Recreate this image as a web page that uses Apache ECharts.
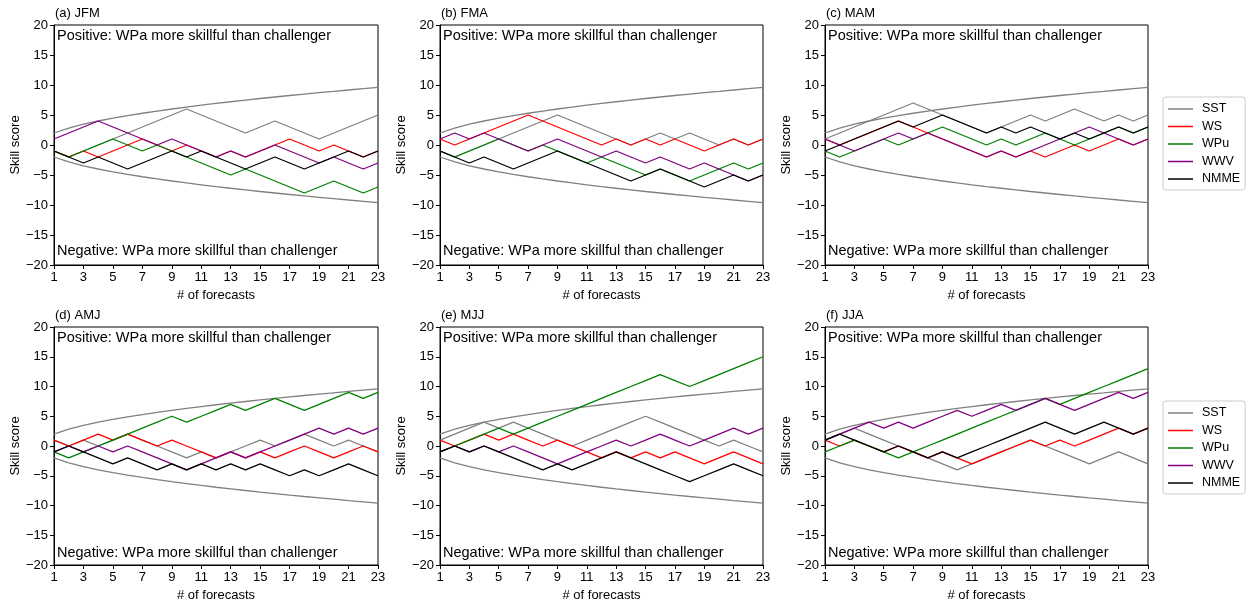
<!DOCTYPE html>
<html><head><meta charset="utf-8">
<script src="https://cdn.jsdelivr.net/npm/echarts@6.0.0/dist/echarts.min.js"></script>
<style>html,body{margin:0;padding:0;background:#fff}#c{width:1251px;height:603px}</style>
</head><body><div id="c"></div><script>
// ---- data ----
const forecasts = ['1','2','3','4','5','6','7','8','9','10','11','12','13','14','15','16','17','18','19','20','21','22','23'];
const yTicks = [-20,-15,-10,-5,0,5,10,15,20];
const panelTitles = ['(a) JFM','(b) FMA','(c) MAM','(d) AMJ','(e) MJJ','(f) JJA'];
const seriesNames = ['SST','WS','WPu','WWV','NMME'];
const boundUpper = [2.0,2.83,3.46,4.0,4.47,4.9,5.29,5.66,6.0,6.32,6.63,6.93,7.21,7.48,7.75,8.0,8.25,8.49,8.72,8.94,9.17,9.38,9.59];
const boundLower = [-2.0,-2.83,-3.46,-4.0,-4.47,-4.9,-5.29,-5.66,-6.0,-6.32,-6.63,-6.93,-7.21,-7.48,-7.75,-8.0,-8.25,-8.49,-8.72,-8.94,-9.17,-9.38,-9.59];

const sstJFM  = [-1,-2,-1,0,1,2,3,4,5,6,5,4,3,2,3,4,3,2,1,2,3,4,5];
const wsJFM   = [-1,-2,-1,-2,-1,0,1,0,-1,0,-1,-2,-1,-2,-1,0,1,0,-1,0,-1,-2,-1];
const wpuJFM  = [-1,-2,-1,0,1,0,-1,0,-1,-2,-3,-4,-5,-4,-5,-6,-7,-8,-7,-6,-7,-8,-7];
const wwvJFM  = [1,2,3,4,3,2,1,0,1,0,-1,-2,-1,-2,-1,0,-1,-2,-3,-2,-3,-4,-3];
const nmmeJFM = [-1,-2,-3,-2,-3,-4,-3,-2,-1,-2,-1,-2,-3,-4,-3,-2,-3,-4,-3,-2,-1,-2,-1];

const sstFMA  = [-1,-2,-1,0,1,2,3,4,5,4,3,2,1,0,1,2,1,2,1,0,1,0,1];
const wsFMA   = [1,0,1,2,3,4,5,4,3,2,1,0,1,0,1,0,1,0,-1,0,1,0,1];
const wpuFMA  = [-1,-2,-1,0,1,0,-1,0,-1,-2,-3,-2,-3,-4,-5,-4,-5,-6,-5,-4,-3,-4,-3];
const wwvFMA  = [1,2,1,2,1,0,-1,0,1,0,-1,-2,-1,-2,-3,-2,-3,-4,-3,-4,-5,-6,-5];
const nmmeFMA = [-1,-2,-3,-2,-3,-4,-3,-2,-1,-2,-3,-4,-5,-6,-5,-4,-5,-6,-7,-6,-5,-6,-5];

const sstMAM  = [1,2,3,4,5,6,7,6,5,4,3,2,3,4,5,4,5,6,5,4,5,4,5];
const wsMAM   = [1,0,1,2,3,4,3,2,1,0,-1,-2,-1,-2,-1,-2,-1,0,-1,0,1,0,1];
const wpuMAM  = [-1,-2,-1,0,1,0,1,2,3,2,1,0,1,0,1,2,1,0,1,2,3,2,3];
const wwvMAM  = [1,0,-1,0,1,2,1,2,1,0,-1,-2,-1,-2,-1,0,1,2,3,2,1,0,1];
const nmmeMAM = [-1,0,1,2,3,4,3,4,5,4,3,2,3,2,3,2,1,2,1,2,3,2,3];

const sstAMJ  = [1,0,1,0,1,2,1,0,-1,-2,-1,-2,-1,0,1,0,1,2,1,0,1,0,-1];
const wsAMJ   = [1,0,1,2,1,2,1,0,1,0,-1,-2,-1,-2,-1,-2,-1,0,-1,-2,-1,0,-1];
const wpuAMJ  = [-1,-2,-1,0,1,2,3,4,5,4,5,6,7,6,7,8,7,6,7,8,9,8,9];
const wwvAMJ  = [-1,0,-1,0,-1,0,-1,-2,-3,-4,-3,-2,-1,-2,-1,0,1,2,3,2,3,2,3];
const nmmeAMJ = [-1,0,-1,-2,-3,-2,-3,-4,-3,-4,-3,-4,-3,-4,-3,-4,-5,-4,-5,-4,-3,-4,-5];

const sstMJJ  = [1,2,3,4,3,4,3,2,1,0,1,2,3,4,5,4,3,2,1,0,1,0,-1];
const wsMJJ   = [1,0,1,2,1,2,1,0,1,0,-1,-2,-1,-2,-1,-2,-1,-2,-3,-2,-1,-2,-3];
const wpuMJJ  = [-1,0,1,2,3,2,3,4,5,6,7,8,9,10,11,12,11,10,11,12,13,14,15];
const wwvMJJ  = [-1,0,-1,0,-1,0,-1,-2,-3,-2,-1,0,1,0,1,2,1,0,1,2,3,2,3];
const nmmeMJJ = [-1,0,-1,0,-1,-2,-3,-4,-3,-4,-3,-2,-1,-2,-3,-4,-5,-6,-5,-4,-3,-4,-5];

const sstJJA  = [1,2,3,2,1,0,-1,-2,-3,-4,-3,-2,-1,0,1,0,-1,-2,-3,-2,-1,-2,-3];
const wsJJA   = [1,0,1,0,-1,0,-1,-2,-1,-2,-3,-2,-1,0,1,0,1,0,1,2,3,2,3];
const wpuJJA  = [-1,0,1,0,-1,-2,-1,0,1,2,3,4,5,6,7,8,7,8,9,10,11,12,13];
const wwvJJA  = [1,2,3,4,3,4,3,4,5,6,5,6,7,6,7,8,7,6,7,8,9,8,9];
const nmmeJJA = [1,2,1,0,-1,0,-1,-2,-1,-2,-1,0,1,2,3,4,3,2,3,4,3,2,3];

const panelData = [
  [sstJFM, wsJFM, wpuJFM, wwvJFM, nmmeJFM],
  [sstFMA, wsFMA, wpuFMA, wwvFMA, nmmeFMA],
  [sstMAM, wsMAM, wpuMAM, wwvMAM, nmmeMAM],
  [sstAMJ, wsAMJ, wpuAMJ, wwvAMJ, nmmeAMJ],
  [sstMJJ, wsMJJ, wpuMJJ, wwvMJJ, nmmeMJJ],
  [sstJJA, wsJJA, wpuJJA, wwvJJA, nmmeJJA]
];

// ---- layout / style ----
const colors = ['#808080','#ff0000','#008000','#800080','#000000'];
const FONT = '"Liberation Sans", Arial, sans-serif';
const lefts = [54, 440, 825];
const widths = [324, 323, 323];
const tops = [25, 327];
const H = 240;

const grids = [], xAxes = [], yAxes = [], series = [], graphics = [];
for (let p = 0; p < 6; p++) {
  const col = p % 3, row = Math.floor(p / 3);
  const gl = lefts[col], gt = tops[row];
  grids.push({left: gl, top: gt, width: widths[col], height: H, show: true,
    borderColor: '#000', borderWidth: 1, backgroundColor: 'transparent'});
  xAxes.push({type: 'category', gridIndex: p, data: forecasts, boundaryGap: false,
    axisLine: {show: true, onZero: false, lineStyle: {color: '#000', width: 1}},
    axisTick: {show: true, interval: 1, length: 4, lineStyle: {color: '#000'}},
    axisLabel: {interval: 1, color: '#000', fontSize: 13, fontFamily: FONT, margin: 6},
    splitLine: {show: false},
    name: '# of forecasts', nameLocation: 'middle', nameGap: 24,
    nameTextStyle: {color: '#000', fontSize: 13, fontFamily: FONT}});
  yAxes.push({type: 'value', gridIndex: p, min: yTicks[0], max: yTicks[yTicks.length-1], interval: 5,
    axisLine: {show: true, onZero: false, lineStyle: {color: '#000', width: 1}},
    axisTick: {show: true, length: 4, lineStyle: {color: '#000'}},
    axisLabel: {color: '#000', fontSize: 13, fontFamily: FONT, margin: 6,
      formatter: v => String(v).replace('-', '\u2212')},
    splitLine: {show: false},
    name: 'Skill score', nameLocation: 'middle', nameGap: 30,
    nameTextStyle: {color: '#000', fontSize: 13, fontFamily: FONT}});
  series.push({name: 'upper', type: 'line', xAxisIndex: p, yAxisIndex: p, data: boundUpper,
    symbol: 'none', silent: true, lineStyle: {color: '#808080', width: 1.3}, itemStyle: {color: '#808080'}});
  series.push({name: 'lower', type: 'line', xAxisIndex: p, yAxisIndex: p, data: boundLower,
    symbol: 'none', silent: true, lineStyle: {color: '#808080', width: 1.3}, itemStyle: {color: '#808080'}});
  for (let s = 0; s < 5; s++) {
    series.push({name: seriesNames[s], type: 'line', xAxisIndex: p, yAxisIndex: p,
      data: panelData[p][s], symbol: 'none', silent: true,
      lineStyle: {color: colors[s], width: 1.3}, itemStyle: {color: colors[s]}});
  }
  graphics.push({type: 'text', left: gl + 1, top: gt - 18,
    style: {text: panelTitles[p], fill: '#000', font: '13px ' + FONT}});
  graphics.push({type: 'text', left: gl + 3, top: gt + 3,
    style: {text: 'Positive: WPa more skillful than challenger', fill: '#000', font: '14.5px ' + FONT}});
  graphics.push({type: 'text', left: gl + 3, top: gt + H - 22,
    style: {text: 'Negative: WPa more skillful than challenger', fill: '#000', font: '14.5px ' + FONT}});
}

const legendBase = {orient: 'vertical', left: 1163, data: seriesNames, icon: 'rect',
  itemWidth: 25, itemHeight: 1.5, itemGap: 3.5, padding: [5, 5, 4, 5],
  borderColor: '#cccccc', borderWidth: 1, borderRadius: 3, backgroundColor: '#fff',
  textStyle: {color: '#000', fontSize: 12.5, fontFamily: FONT, lineHeight: 14, padding: [0, 0, 0, 4]},
  selectedMode: false};

const chart = echarts.init(document.getElementById('c'), null, {renderer: 'canvas'});
chart.setOption({
  animation: false,
  backgroundColor: '#fff',
  grid: grids, xAxis: xAxes, yAxis: yAxes, series: series,
  legend: [Object.assign({}, legendBase, {top: 97}), Object.assign({}, legendBase, {top: 401})],
  graphic: graphics
});
</script></body></html>
